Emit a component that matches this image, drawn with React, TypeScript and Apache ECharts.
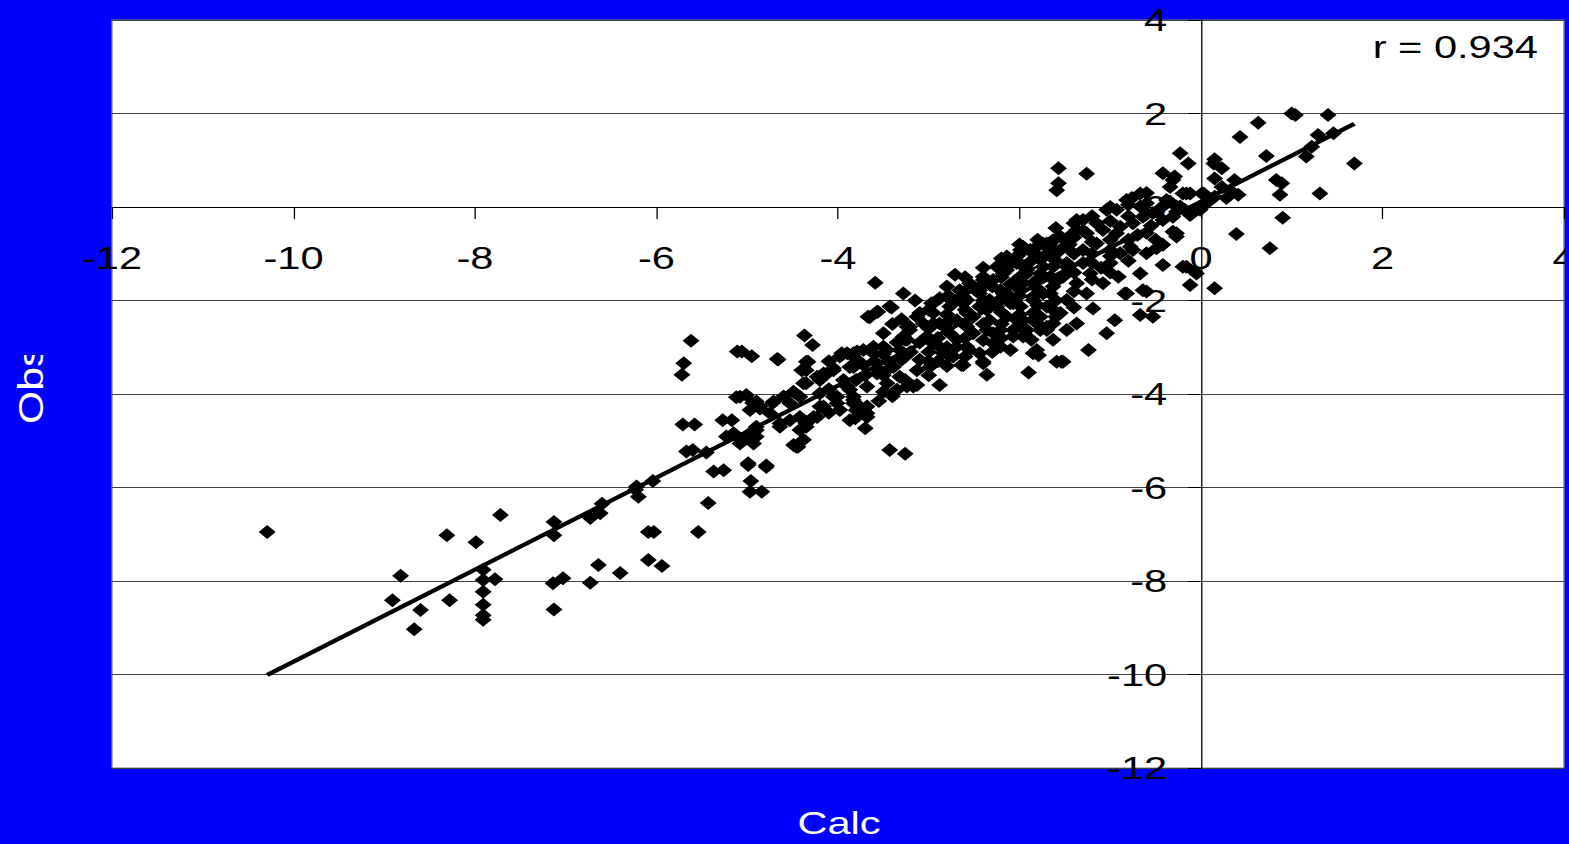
import React, { useEffect, useRef } from "react";
import * as echarts from "echarts";

// Axis ticks
const axisMin = -12;
const axisMax = 4;
const axisStep = 2;

// Calc (x) vs Obs (y) points
const tailPoints: [number, number][] = [
  [-10.29, -6.95], [-8.82, -7.89], [-8.91, -8.41], [-8.6, -8.62], [-8.67, -9.03], [-8.31, -7.02], [-8.28, -8.41],
  [-7.99, -7.17], [-7.72, -6.59], [-7.91, -7.76], [-7.78, -7.96], [-7.91, -7.98], [-7.91, -8.23], [-7.91, -8.51],
  [-7.91, -8.73], [-7.91, -8.83], [-7.13, -6.74], [-7.13, -7.02], [-7.14, -8.05], [-7.03, -7.94], [-7.13, -8.61],
  [-6.64, -7.66], [-6.73, -8.04], [-6.4, -7.83], [-6.6, -6.35], [-6.73, -6.65], [-6.62, -6.55],
];

const midPoints: [number, number][] = [
  [-6.23, -6.05], [-6.2, -6.2], [-6.04, -5.86], [-6.22, -5.98], [-6.09, -6.95], [-6.03, -6.95], [-6.09, -7.55],
  [-5.94, -7.68], [-5.54, -6.95], [-5.43, -6.33], [-5.62, -2.86], [-5.7, -3.34], [-5.72, -3.59], [-5.71, -4.65],
  [-5.58, -4.65], [-5.67, -5.23], [-5.6, -5.2], [-5.45, -5.25], [-5.37, -5.66], [-5.26, -5.63], [-4.99, -5.52],
  [-4.79, -5.56], [-4.96, -5.86], [-4.84, -6.09], [-4.97, -6.09], [-5.11, -3.09], [-4.95, -3.19], [-4.67, -3.25],
  [-4.37, -2.75], [-4.28, -2.95], [-4.35, -3.31], [-5.12, -4.07], [-5.27, -4.56], [-5.17, -4.56], [-4.94, -4.19],
  [-5.12, -4.91], [-4.9, -4.91], [-4.72, -4.19], [-4.46, -5.13], [-4.35, -4.7], [-5.08, -4.06], [-4.9, -4.16],
  [-4.86, -4.31], [-4.71, -4.16], [-4.6, -4.06], [-4.49, -3.95], [-4.38, -3.77], [-4.35, -3.49], [-4.23, -3.63],
  [-4.16, -4.27], [-4.27, -4.49], [-4.35, -4.63], [-4.42, -4.49], [-4.53, -4.56], [-4.64, -4.63], [-4.75, -4.41],
  [-4.9, -4.77], [-5.01, -4.91], [-5.08, -5.06], [-4.93, -5.06], [-5.15, -4.84], [-5.23, -4.91], [-5.06, -3.09],
  [-4.66, -3.26], [-4.33, -3.31], [-4.4, -3.49], [-5.01, -4.02], [-4.97, -4.34], [-4.86, -4.27], [-4.64, -4.7],
  [-4.9, -4.7], [-4.97, -4.84], [-4.42, -4.77], [-4.38, -4.98], [-4.44, -5.13], [-4.49, -5.09], [-4.99, -5.48],
  [-4.79, -5.53], [-4.42, -4.06], [-4.6, -4.06], [-4.53, -4.2], [-4.2, -3.7], [-4.35, -3.77], [-4.2, -3.99],
  [-4.38, -4.56], [-4.23, -4.49], [-4.2, -4.27],
];

const bandPoints: [number, number][] = [
  [-4.12, -3.56], [-4.05, -3.49], [-3.98, -3.2], [-3.83, -3.13], [-3.9, -3.84], [-4.05, -4.06], [-3.76, -4.41],
  [-3.83, -4.2], [-3.87, -4.56], [-3.43, -2.13], [-3.56, -2.24], [-3.67, -2.35], [-3.96, -3.13], [-3.79, -3.09],
  [-3.61, -2.99], [-3.46, -3.06], [-3.28, -2.77], [-3.24, -2.56], [-4.16, -3.56], [-4.05, -3.45], [-3.87, -3.42],
  [-3.72, -3.38], [-3.54, -3.49], [-3.39, -3.42], [-3.32, -3.63], [-3.24, -3.84], [-3.46, -3.77], [-3.68, -3.84],
  [-3.87, -3.91], [-4.01, -4.06], [-4.01, -4.2], [-3.83, -4.13], [-3.68, -4.27], [-3.68, -4.49], [-3.81, -4.52],
  [-3.7, -4.73], [-3.98, -4.34], [-3.43, -5.2], [-3.26, -5.28], [-3.26, -2.84], [-3.26, -3.2], [-3.26, -3.7],
  [-3.35, -3.91], [-3.57, -3.56], [-3.94, -3.7], [-3.59, -1.62], [-3.28, -1.85], [-3.41, -2.15], [-3.65, -2.36],
  [-3.57, -2.24], [-3.13, -2.35], [-3.21, -2.63], [-3.24, -2.84], [-3.32, -3.06], [-3.5, -2.99], [-3.61, -3.13],
  [-3.72, -3.06], [-3.9, -3.13], [-3.83, -3.42], [-3.83, -4.06], [-3.68, -4.41], [-3.76, -4.27], [-3.46, -3.49],
  [-3.13, -3.81], [-3.1, -3.27], [-3.4, -2.5], [-3.35, -2.9], [-3.2, -3.1], [-3.1, -2.9], [-3.0, -3.1],
  [-2.9, -3.3], [-3.45, -3.3], [-3.6, -3.3], [-3.7, -3.6], [-3.5, -3.95], [-3.4, -4.05], [-3.55, -4.15],
  [-3.17, -3.84], [-3.13, -3.49], [-3.3, -3.27], [-3.21, -2.56], [-3.1, -2.27],
];

const corePoints: [number, number][] = [
  [-2.71, -1.45], [-2.8, -1.92], [-2.97, -2.06], [-2.88, -3.81], [-2.99, -3.42], [-2.77, -3.2], [-2.62, -3.38],
  [-2.36, -3.59], [-2.4, -3.34], [-1.9, -3.54], [-1.85, -3.13], [-1.87, -2.84], [-1.63, -2.84], [-1.59, -3.31],
  [-2.07, -2.77], [-2.21, -2.99], [-2.44, -3.13], [-2.58, -2.99], [-2.69, -2.84], [-2.88, -2.99], [-3.02, -2.77],
  [-3.06, -2.49], [-2.88, -2.49], [-2.69, -2.42], [-2.51, -2.35], [-2.33, -2.42], [-2.14, -2.35], [-1.96, -2.42],
  [-1.77, -2.35], [-1.63, -2.2], [-1.7, -2.56], [-1.92, -2.63], [-2.29, -2.7], [-2.51, -2.7], [-2.77, -2.7],
  [-2.95, -2.27], [-2.77, -2.13], [-2.58, -1.99], [-2.44, -1.78], [-2.29, -1.56], [-2.14, -1.28], [-1.99, -0.99],
  [-1.81, -0.85], [-1.66, -0.78], [-2.33, -1.99], [-2.14, -1.85], [-1.96, -1.63], [-1.77, -1.42], [-1.63, -1.28],
  [-2.07, -2.06], [-1.85, -1.99], [-1.66, -1.85], [-2.44, -2.13], [-2.25, -2.13], [-2.4, -1.56], [-2.18, -1.42],
  [-2.55, -1.63], [-2.62, -2.06], [-2.88, -1.95], [-2.66, -1.78], [-2.4, -3.31], [-2.64, -3.38], [-1.79, -3.17],
  [-1.54, -3.31], [-1.48, -2.63], [-1.7, -2.63], [-1.55, -0.63], [-1.7, -0.78], [-1.96, -0.85], [-2.14, -1.06],
  [-2.25, -1.28], [-2.4, -1.49], [-2.44, -1.85], [-2.62, -1.92], [-2.77, -1.92], [-2.95, -2.06], [-2.95, -2.92],
  [-2.84, -3.13], [-2.73, -3.2], [-2.55, -3.06], [-2.29, -2.92], [-2.1, -3.06], [-1.96, -2.77], [-2.21, -2.63],
  [-2.36, -2.63], [-2.58, -2.56], [-2.77, -2.42], [-2.95, -2.49], [-2.58, -2.27], [-2.36, -2.2], [-2.1, -2.06],
  [-1.85, -1.92], [-1.7, -2.13], [-1.63, -1.7], [-1.52, -1.49], [-1.55, -2.27], [-1.85, -2.27], [-2.03, -2.42],
  [-1.74, -1.28], [-1.92, -1.42], [-2.07, -1.63], [-2.21, -1.78], [-2.03, -1.2], [-1.85, -0.99], [-1.63, -1.06],
  [-1.48, -0.85], [-1.48, -1.28], [-1.88, -0.92], [-2.03, -1.06], [-2.18, -1.13], [-1.99, -0.92], [-2.14, -1.35],
  [-1.92, -1.35], [-1.77, -1.13], [-1.85, -1.63], [-1.99, -1.78], [-2.18, -1.85], [-1.66, -1.49], [-1.55, -0.92],
  [-1.74, -1.85], [-1.99, -2.13], [-1.85, -2.42], [-2.07, -2.63], [-1.63, -2.49], [-1.81, -3.06], [-1.77, -2.63],
];

// Points inside the solid black part of the band
const bandFill: [number, number][] = [
  [-3.0, -2.2], [-3.0, -2.6], [-3.0, -3.3], [-3.0, -3.6], [-2.8, -1.7], [-2.8, -2.3], [-2.8, -2.6], [-2.8, -3.0],
  [-2.8, -3.4], [-2.6, -1.5], [-2.6, -1.8], [-2.6, -2.2], [-2.6, -2.5], [-2.6, -2.8], [-2.6, -3.2], [-2.4, -1.3],
  [-2.4, -1.65], [-2.4, -2.0], [-2.4, -2.5], [-2.4, -2.85], [-2.2, -1.1], [-2.2, -1.5], [-2.2, -1.95], [-2.2, -2.25],
  [-2.2, -2.5], [-2.2, -2.8], [-2.0, -0.8], [-2.0, -1.2], [-2.0, -1.5], [-2.0, -1.9], [-2.0, -2.3], [-2.0, -2.55],
  [-1.8, -0.7], [-1.8, -1.05], [-1.8, -1.55], [-1.8, -1.75], [-1.8, -2.1], [-1.8, -2.5], [-1.6, -0.45], [-1.6, -0.95],
  [-1.6, -1.15], [-1.6, -1.6], [-1.6, -2.0], [-1.6, -2.35], [-1.4, -0.35], [-1.4, -0.65], [-1.4, -1.0], [-1.4, -1.4],
  [-1.4, -1.8], [-1.4, -2.15], [-1.2, -0.2], [-1.2, -0.75], [-1.2, -1.2], [-1.2, -1.55], [-1.0, 0.0], [-1.0, -0.3],
  [-1.0, -1.05], [-1.0, -1.4], [-0.8, 0.05], [-0.8, -0.2], [-0.8, -0.7], [-0.8, -1.15], [-0.6, 0.3], [-0.6, -0.55],
  [-0.6, -0.15], [-3.5, -2.7], [-3.5, -3.15], [-3.5, -3.6], [-3.8, -3.25], [-3.8, -3.7], [-3.8, -4.35], [-4.1, -3.9],
  [-4.1, -4.4], [-4.1, -3.3], [-2.7, -2.0], [-2.5, -1.75], [-2.3, -1.7], [-2.1, -1.65], [-1.9, -1.2], [-1.7, -1.0],
  [-1.5, -0.7], [-1.3, -0.5], [-2.9, -2.8], [-2.7, -3.0], [-2.3, -3.1], [-3.3, -2.4], [-3.15, -2.0],
];

const rightPoints: [number, number][] = [
  [-1.57, 0.83], [-1.26, 0.71], [-1.57, 0.51], [-1.59, 0.36], [-0.23, 1.15], [-0.14, 0.93], [-0.42, 0.72],
  [-0.31, 0.58], [-0.34, 0.43], [-0.12, 0.29], [-0.6, 0.08], [-0.76, 0.19], [-0.93, -0.06], [-1.04, -0.06],
  [-0.38, 0.08], [-0.23, 0.01], [-0.05, -0.06], [-0.31, -0.21], [-0.42, -0.28], [-0.64, -0.21], [-0.75, -0.35],
  [-0.89, -0.42], [-1.08, -0.49], [-1.26, -0.56], [-1.37, -0.28], [-1.41, -0.56], [-1.74, -0.78], [-0.31, -0.53],
  [-0.27, -0.63], [-0.42, -0.81], [-0.42, -1.24], [-0.6, -0.99], [-0.75, -0.92], [-1.0, -1.2], [-0.89, -0.99],
  [-0.67, -1.42], [-0.84, -1.85], [-0.64, -1.78], [-0.67, -2.31], [-0.53, -2.35], [-0.95, -2.42], [-1.04, -2.7],
  [-1.24, -3.06], [-1.52, -3.31], [-1.19, -2.17], [-0.91, -1.49], [-1.08, -1.63], [-1.22, -1.42], [-1.37, -1.63],
  [-1.26, -1.85], [-1.48, -1.99], [-1.37, -2.49], [-0.2, -1.28], [-0.12, -1.67], [-0.05, -1.42], [-1.48, -1.2],
  [-1.3, -0.92], [-1.15, -0.78], [-1.0, -0.92], [-0.38, 0.15], [-0.67, 0.29], [-0.82, 0.15], [-0.67, 0.01],
  [-0.53, -0.13], [-0.27, 0.01], [-0.16, 0.29], [-0.08, -0.1], [-0.78, -0.85], [-0.93, -0.56], [-1.15, -0.35],
  [-1.3, -0.28], [-1.37, -0.49], [-1.63, -0.71], [-0.82, -1.85], [-0.6, -1.81], [-0.16, -1.28], [-0.07, -1.38],
  [-0.29, 0.65], [-0.2, 0.29], [-0.34, 0.11], [-0.45, -0.03], [-0.18, -0.06], [-0.12, -0.17], [-0.27, -0.1],
  [-0.27, -0.56], [-0.49, -0.88], [-1.2, -1.0], [-1.0, -0.7], [-0.7, -0.6], [-0.55, -0.4], [-0.5, -0.7],
  [-1.3, -1.2], [-1.45, -0.8], [-1.1, -1.3],
];

const upperPoints: [number, number][] = [
  [0.03, 0.29], [0.15, 0.22], [0.14, 0.93], [0.06, 0.08], [1.0, 2.0], [1.04, 1.97], [1.4, 1.97], [0.63, 1.8],
  [0.43, 1.5], [1.29, 1.54], [1.46, 1.58], [1.22, 1.29], [1.16, 1.08], [0.72, 1.09], [1.69, 0.93], [0.15, 1.02],
  [0.23, 0.83], [0.15, 0.61], [0.37, 0.58], [0.83, 0.58], [0.89, 0.51], [0.87, 0.26], [1.31, 0.29], [0.01, 0.29],
  [0.23, 0.43], [0.28, 0.19], [0.41, 0.26], [0.32, 0.36], [-0.01, -0.06], [0.9, -0.23], [0.39, -0.58],
  [0.76, -0.88], [0.15, -1.74],
];

// Fitted line end points
const trendLine: [number, number][] = [[-10.29, -10.01], [1.69, 1.78]];

const rLabel = "r = 0.934";
const xName = "Calc";
const yName = "Obs";

// Layout (the chart is drawn in a narrower frame and stretched horizontally)
const BASE_W = 1207;
const H = 844;
const S = 1569 / BASE_W;
const ux = (px: number) => px / S;
const BLUE = "#0000FF";
const FONT = "Liberation Sans";

const GRID_LEFT = ux(112);
const GRID_RIGHT = ux(1564);
const GRID_TOP = 20;
const GRID_BOTTOM = 768;

export default function App() {
  const ref = useRef<HTMLDivElement>(null);

  useEffect(() => {
    if (!ref.current) return;
    const chart = echarts.init(ref.current, undefined, { renderer: "svg" });
    const allPoints = [
      ...tailPoints, ...midPoints, ...bandPoints, ...corePoints, ...bandFill, ...rightPoints, ...upperPoints,
    ];
    const frac0 = (0 - axisMin) / (axisMax - axisMin);
    const zeroX = GRID_LEFT + frac0 * (GRID_RIGHT - GRID_LEFT);
    const zeroY = GRID_BOTTOM - frac0 * (GRID_BOTTOM - GRID_TOP);
    chart.setOption({
      animation: false,
      backgroundColor: BLUE,
      grid: {
        show: true,
        left: GRID_LEFT,
        right: BASE_W - GRID_RIGHT,
        top: GRID_TOP,
        bottom: H - GRID_BOTTOM,
        containLabel: false,
        outerBoundsMode: "none",
        backgroundColor: "#ffffff",
        borderColor: "#808080",
        borderWidth: 1,
      },
      xAxis: {
        type: "value",
        min: axisMin,
        max: axisMax,
        interval: axisStep,
        position: "bottom",
        offset: -(GRID_BOTTOM - zeroY),
        axisLine: { onZero: false, lineStyle: { color: "#000", width: 1 } },
        axisTick: { show: true, length: 12, lineStyle: { color: "#000" } },
        axisLabel: { fontSize: 32, fontFamily: FONT, color: "#000", margin: 35 },
        splitLine: { show: false },
      },
      yAxis: {
        type: "value",
        min: axisMin,
        max: axisMax,
        interval: axisStep,
        position: "left",
        offset: -(zeroX - GRID_LEFT),
        axisLine: { onZero: false, lineStyle: { color: "#000", width: 1 } },
        axisTick: { show: true, length: 10, lineStyle: { color: "#000" } },
        axisLabel: { fontSize: 32, fontFamily: FONT, color: "#000", margin: 26 },
        splitLine: { show: true, lineStyle: { color: "#404040", width: 1 } },
      },
      series: [
        {
          type: "scatter",
          data: allPoints,
          symbol: "diamond",
          symbolSize: [13, 14],
          itemStyle: { color: "#000", opacity: 1 },
          z: 3,
        },
        {
          type: "line",
          data: trendLine,
          symbol: "none",
          lineStyle: { color: "#000", width: 4 },
          z: 4,
        },
      ],
      graphic: [
        {
          type: "text",
          z: 100,
          x: ux(1538),
          y: 47,
          style: { text: rLabel, fill: "#000", font: `32px "${FONT}"`, textAlign: "right", textVerticalAlign: "middle" },
        },
        {
          type: "text",
          z: 100,
          x: ux(839),
          y: 823,
          style: { text: xName, fill: "#fff", font: `32px "${FONT}"`, textAlign: "center", textVerticalAlign: "middle" },
        },
        {
          type: "text",
          z: 100,
          x: ux(31),
          y: 424,
          rotation: Math.PI / 2,
          scaleX: 1.58,
          style: { text: yName, fill: "#fff", font: `27px "${FONT}"`, textAlign: "left", textVerticalAlign: "middle" },
        },
        {
          type: "rect",
          z: 101,
          shape: { x: 0, y: 280, width: 70, height: 75 },
          style: { fill: BLUE },
        },
        {
          type: "rect",
          z: 101,
          shape: { x: ux(1565), y: 0, width: BASE_W - ux(1565) + 2, height: H },
          style: { fill: BLUE },
        },
      ],
    });
    return () => chart.dispose();
  }, []);

  return (
    <div
      ref={ref}
      style={{
        position: "fixed",
        left: 0,
        top: 0,
        width: BASE_W,
        height: H,
        transform: `scaleX(${S})`,
        transformOrigin: "0 0",
      }}
    />
  );
}
